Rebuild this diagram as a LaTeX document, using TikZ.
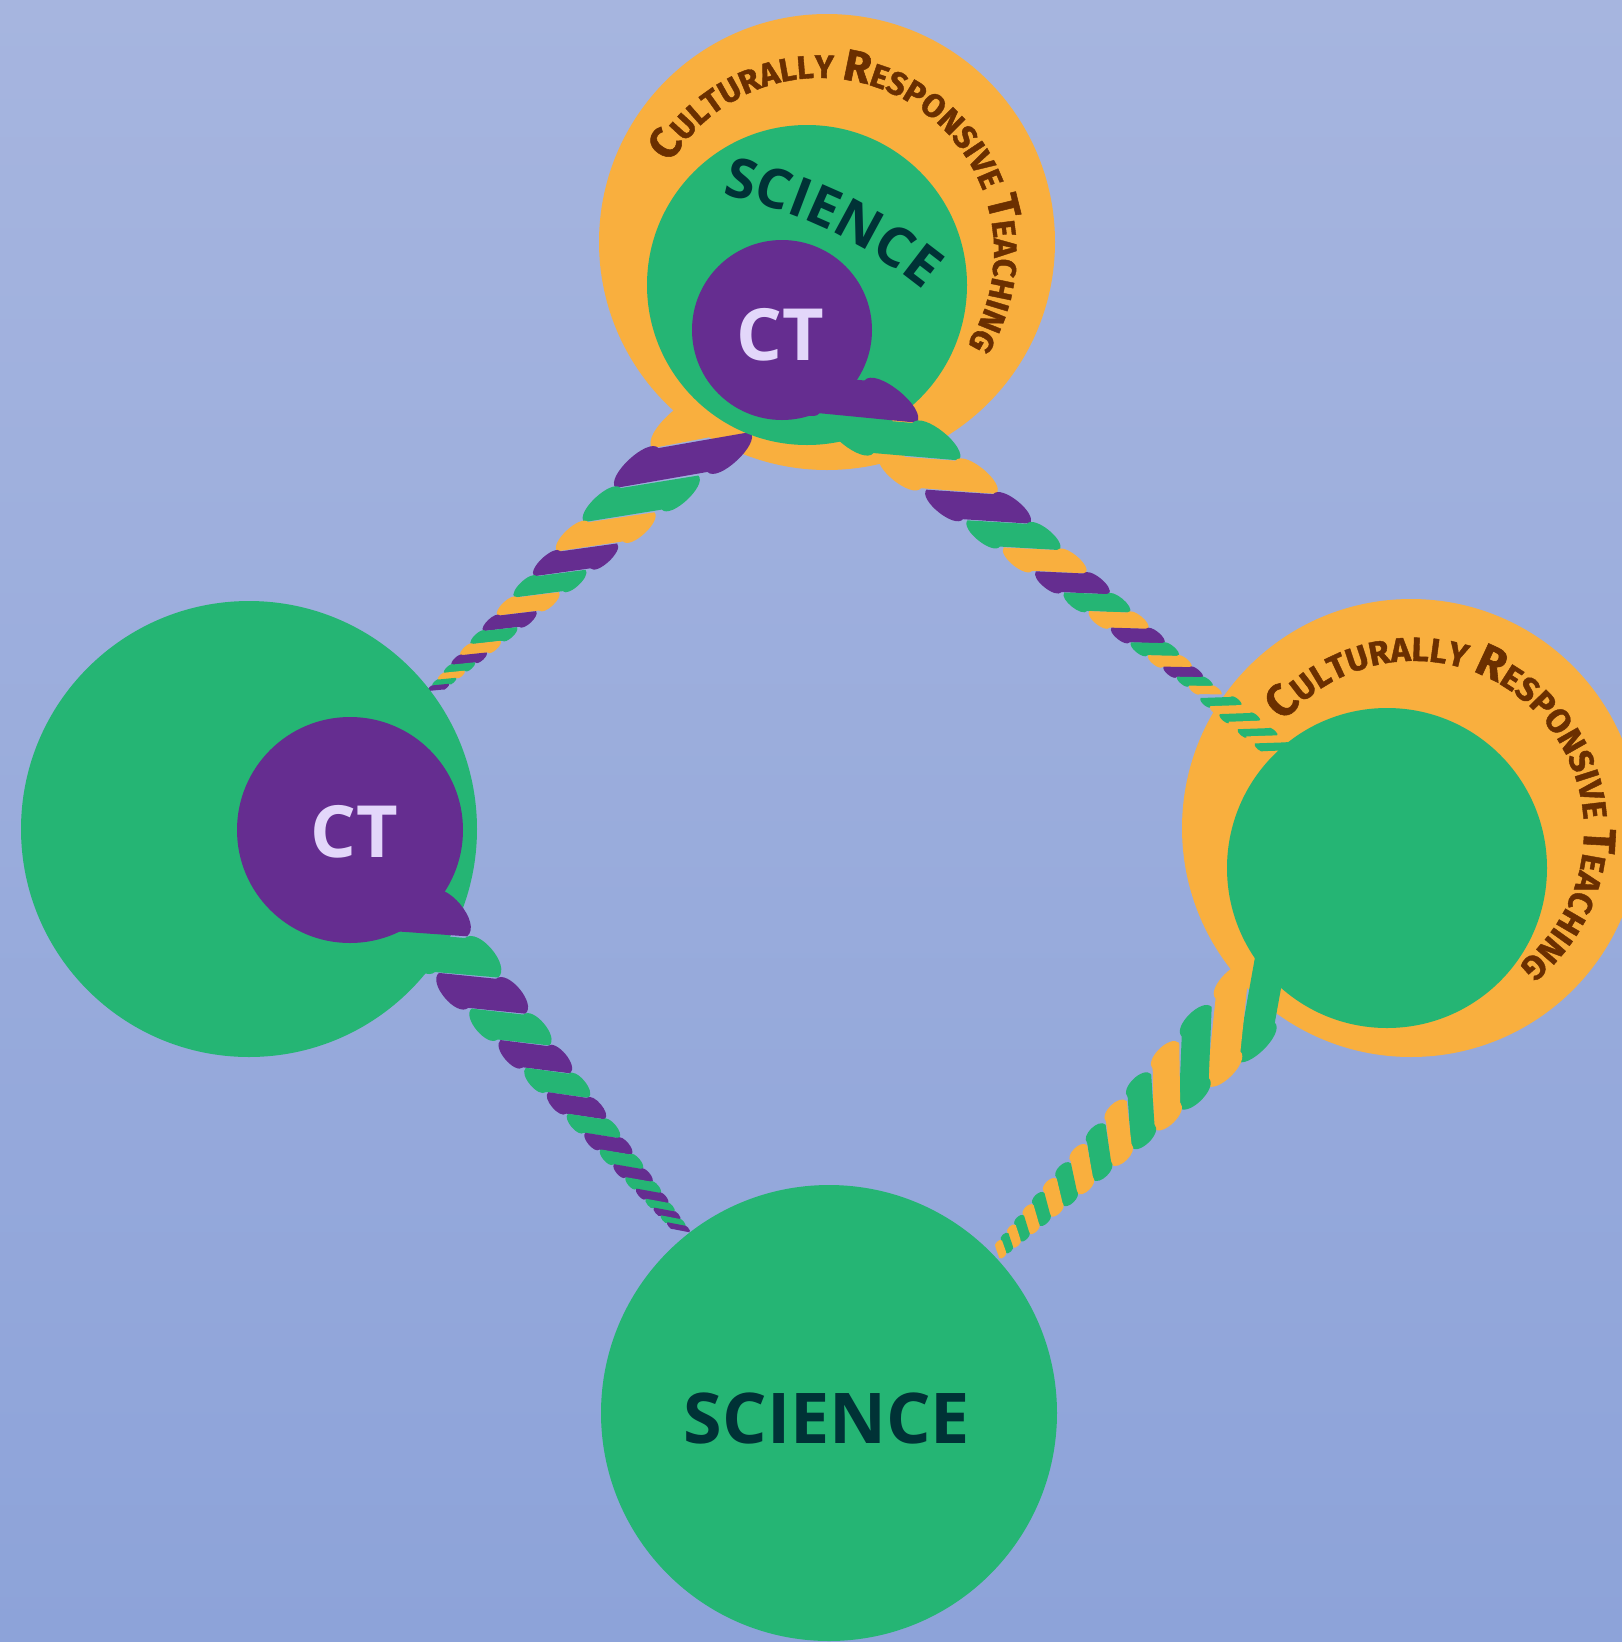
\documentclass[tikz,border=0pt]{standalone}
\usepackage{fontspec}
\usetikzlibrary{calc,decorations.text}
\newfontfamily\osans{Open Sans}
\newfontfamily\fsans{Fira Sans}[BoldFeatures={FakeBold=1.2}]
\definecolor{bgtop}{HTML}{A6B5DF}
\definecolor{bgbot}{HTML}{8DA3D9}
\definecolor{ropeO}{HTML}{F9AF3E}
\definecolor{ropeG}{HTML}{25B574}
\definecolor{ropeP}{HTML}{652D90}
\definecolor{ctxt}{HTML}{E3D7FA}
\definecolor{stxt}{HTML}{003236}
\definecolor{crtxt}{HTML}{6B2F00}
\newcommand\crtbig{\fsans\bfseries\fontsize{44}{44}\selectfont}
\newcommand\crtsmall{\fsans\bfseries\fontsize{32.5}{32.5}\selectfont}
\newcommand\crtbigR{\fsans\bfseries\fontsize{45.5}{45.5}\selectfont}
\newcommand\crtsmallR{\fsans\bfseries\fontsize{33.6}{33.6}\selectfont}
% rope strands: parallelogram bands across the rope, ends bulging outwards
\newcommand\ropestripes[1]{%
  \foreach \k/\col in {#1}{%
    \pgfmathsetmacro\rqk{pow(\rq,\k)}%
    \pgfmathsetmacro\rsk{\rs*\rqk}%
    \pgfmathsetmacro\ru{\rs*(1-\rqk)/(1-\rq)}%
    \pgfmathsetmacro\rth{\rTa+(\rTb-\rTa)*(1-\rqk)}%
    \pgfmathsetmacro\rw{\rwa*\rsk+\rwb}%
    \pgfmathsetmacro\rhw{\rw/2}%
    \pgfmathsetmacro\rct{\rhw*cos(\rth)/sin(\rth)}%
    \pgfmathsetmacro\rhs{\rsk/2+0.8}%
    \pgfmathsetmacro\rbb{\rbf*\rsk*abs(sin(\rth))}%
    \pgfmathsetmacro\raA{\rct-\rhs}%
    \pgfmathsetmacro\raB{\rct+\rhs}%
    \pgfmathsetmacro\raC{\rhs-(\rct)}%
    \pgfmathsetmacro\raD{-(\rct)-\rhs}%
    \pgfmathsetmacro\rwo{\rhw+\rbb}%
    \coordinate (rc) at ($(\rS)+(\rAx:\ru)$);%
    \fill[\col] ($(rc)+(\rAx:\raA)+(\rAx+90:\rhw)$)
      .. controls ($(rc)+(\rAx:\raA)+(\rAx+90:\rwo)$) and ($(rc)+(\rAx:\raB)+(\rAx+90:\rwo)$) ..
      ($(rc)+(\rAx:\raB)+(\rAx+90:\rhw)$) -- ($(rc)+(\rAx:\raC)+(\rAx+90:-\rhw)$)
      .. controls ($(rc)+(\rAx:\raC)+(\rAx+90:-\rwo)$) and ($(rc)+(\rAx:\raD)+(\rAx+90:-\rwo)$) ..
      ($(rc)+(\rAx:\raD)+(\rAx+90:-\rhw)$) -- cycle;%
  }%
}
\begin{document}
\begin{tikzpicture}[x=1pt,y=1pt,
  disc/.style={circle,inner sep=0pt,outer sep=0pt,draw=none},
  bigtxt/.style={inner sep=0pt,font=\osans\bfseries\fontsize{72}{72}\selectfont}]
\useasboundingbox (0,0) rectangle (1622,-1642);
\clip (0,0) rectangle (1622,-1642);
\fill[top color=bgtop,bottom color=bgbot] (0,0) rectangle (1622,-1642);

% outer orange rings
\node[disc,fill=ropeO,minimum size=456pt] (topO) at (827,-242) {};
\node[disc,fill=ropeO,minimum size=458pt] (rightO) at (1411,-828) {};

% rope top -> left
\coordinate (tlA) at (683,-460);
\def\rS{tlA}\def\rAx{222.9}\def\rTa{-33}\def\rTb{-38}\def\rs{57}\def\rq{0.85}\def\rwa{0.83}\def\rwb{3.5}\def\rbf{0.5}
\ropestripes{-1/ropeO,0/ropeP,1/ropeG,2/ropeO,3/ropeP,4/ropeG,5/ropeO,6/ropeP,7/ropeG,8/ropeO,9/ropeP,10/ropeG,11/ropeO,12/ropeG,13/ropeP}

% left circle
\node[disc,fill=ropeG,minimum size=456pt] (leftG) at (249,-829) {};
\node[disc,fill=ropeP,minimum size=226pt] (leftP) at (350,-830) {};

% top circle
\node[disc,fill=ropeG,minimum size=320pt] (topG) at (807,-285) {};
\node[disc,fill=ropeP,minimum size=180pt] (topP) at (782,-330) {};

% right inner circle
\node[disc,fill=ropeG,minimum size=320pt] (rightG) at (1387,-868) {};

% rope top -> right
\coordinate (trA) at (893,-438);
\def\rS{trA}\def\rAx{-38.9}\def\rTa{34}\def\rTb{39}\def\rs{58}\def\rq{0.885}\def\rwa{0.75}\def\rwb{4.5}\def\rbf{0.5}
\ropestripes{-1/ropeP,0/ropeG,1/ropeO,2/ropeP,3/ropeG,4/ropeO,5/ropeP,6/ropeG,7/ropeO,8/ropeP,9/ropeG,10/ropeO,11/ropeP,12/ropeG,13/ropeO}
\coordinate (trB) at (1221,-702);
\def\rS{trB}\def\rAx{-40}\def\rTa{42}\def\rTb{42}\def\rs{12.5}\def\rq{0.97}\def\rwa{0}\def\rwb{20}\def\rbf{0.5}
\ropestripes{0/ropeG,1/ropeO,2/ropeG,3/ropeO,4/ropeG,5/ropeO,6/ropeG}

% rope left -> bottom
\coordinate (llA) at (450,-955);
\def\rS{llA}\def\rAx{-50}\def\rTa{45}\def\rTb{38}\def\rs{50}\def\rq{0.88}\def\rwa{0.8}\def\rwb{4.8}\def\rbf{0.5}
\ropestripes{-1/ropeP,0/ropeG,1/ropeP,2/ropeG,3/ropeP,4/ropeG,5/ropeP,6/ropeG,7/ropeP,8/ropeG,9/ropeP,10/ropeG,11/ropeP,12/ropeG,13/ropeP,14/ropeG,15/ropeP}

% rope right -> bottom
\coordinate (lrA) at (1228,-1025);
\def\rS{lrA}\def\rAx{224.6}\def\rTa{39.4}\def\rTb{70}\def\rs{46}\def\rq{0.88}\def\rwa{1.16}\def\rwb{1.7}\def\rbf{0.5}
\ropestripes{-1/ropeG,0/ropeO,1/ropeG,2/ropeO,3/ropeG,4/ropeO,5/ropeG,6/ropeO,7/ropeG,8/ropeO,9/ropeG,10/ropeO,11/ropeG,12/ropeO,13/ropeG,14/ropeO}

% bottom circle
\node[disc,fill=ropeG,minimum size=456pt] (botG) at (829,-1413) {};

% texts
\node[bigtxt,text=ctxt] (ctTop) at (780,-335) {CT};
\node[bigtxt,text=ctxt] (ctLeft) at (354,-832) {CT};
\node[inner sep=0pt,text=stxt,font=\osans\bfseries\fontsize{70}{70}\selectfont] (sciBot) at (827,-1418) {SCIENCE};

\path[decorate,decoration={text along path,text align=center,text color=stxt,
  text={|\osans\bfseries\fontsize{55}{55}\selectfont|SCIENCE}}]
  (629,-649) ++(94.5:464) arc[start angle=94.5,end angle=34.5,radius=464];

\path[decorate,decoration={text along path,text align=center,text color=crtxt,
  text={|\crtbig|C|\crtsmall|ULTURALLY |\crtbig|R|\crtsmall|ESPONSIVE |\crtbig|T|\crtsmall|EACHING}}]
  (820,-252) ++(158.5:174) arc[start angle=158.5,end angle=-41.5,radius=174];

\path[decorate,decoration={text along path,text align=center,text color=crtxt,
  text={|\crtbigR|C|\crtsmallR|ULTURALLY |\crtbigR|R|\crtsmallR|ESPONSIVE |\crtbigR|T|\crtsmallR|EACHING}}]
  (1414,-831) ++(144:170) arc[start angle=144,end angle=-56,radius=170];
\end{tikzpicture}
\end{document}
